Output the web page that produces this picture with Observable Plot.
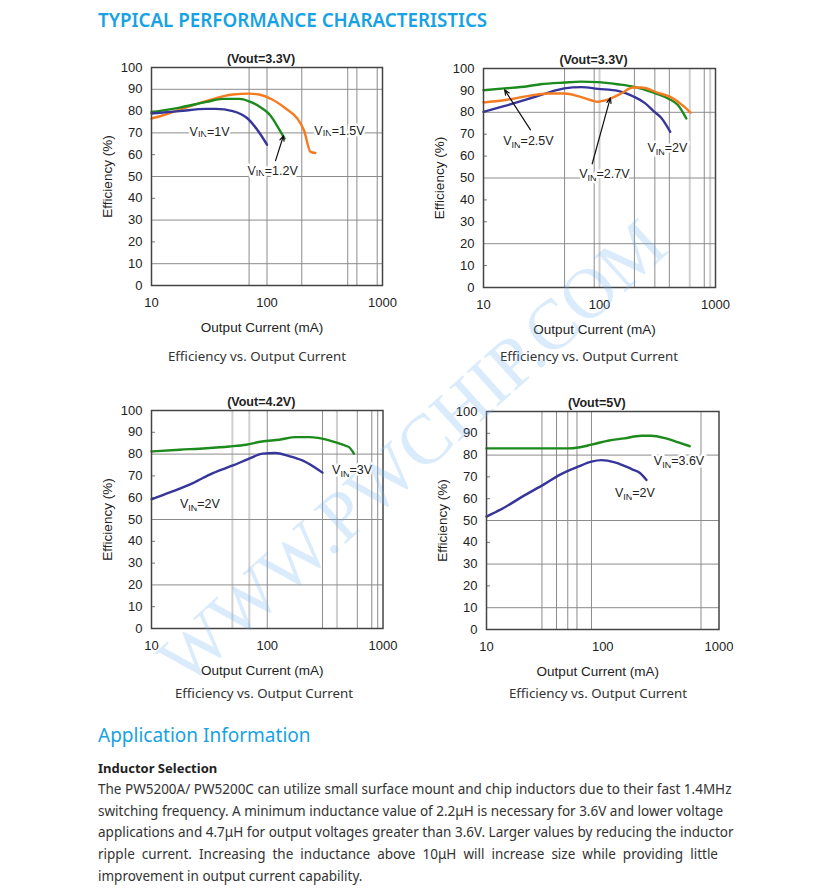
<!DOCTYPE html>
<html><head><meta charset="utf-8">
<script src="https://cdn.jsdelivr.net/npm/d3@7"></script>
<script src="https://cdn.jsdelivr.net/npm/@observablehq/plot@0.6"></script>
<style>
body{margin:0;background:#fff;}
#page{position:relative;width:827px;height:892px;overflow:hidden;font-family:"Noto Sans",sans-serif;background:#fff;}
.abs{position:absolute;white-space:nowrap;}
.chart{position:absolute;}
.h1{left:98px;top:9px;font-size:18.8px;line-height:22px;color:#17a2e3;font-weight:600;}
.cap{font-size:13.3px;line-height:16px;color:#333;transform:translateX(-50%);}
.h2{left:98px;top:723px;font-size:19px;line-height:24px;color:#17a2e3;}
.h3{left:98px;top:759px;font-size:13px;line-height:18px;color:#222;font-weight:bold;}
.para{position:absolute;left:98px;top:779px;width:620px;font-size:13.5px;line-height:21.7px;color:#333;}
.para div{text-align:justify;text-align-last:justify;white-space:nowrap;}
.para div.last{text-align-last:left;}
#wm{position:absolute;left:412px;top:452px;transform:translate(-50%,-50%) rotate(-42deg);font-family:"Liberation Serif",serif;font-size:71px;color:rgba(120,180,240,0.27);white-space:nowrap;pointer-events:none;}
</style></head><body><div id="page">
<div class="abs h1">TYPICAL PERFORMANCE CHARACTERISTICS</div>
<div id="c1" class="chart"></div><div id="c2" class="chart"></div>
<div id="c3" class="chart"></div><div id="c4" class="chart"></div>
<div class="abs cap" style="left:257px;top:348px">Efficiency vs. Output Current</div>
<div class="abs cap" style="left:589px;top:348px">Efficiency vs. Output Current</div>
<div class="abs cap" style="left:264px;top:685px">Efficiency vs. Output Current</div>
<div class="abs cap" style="left:598px;top:685px">Efficiency vs. Output Current</div>
<div class="abs h2">Application Information</div>
<div class="abs h3">Inductor Selection</div>
<div class="para">
<div>The PW5200A/ PW5200C can utilize small surface mount and chip inductors due to their fast 1.4MHz</div>
<div>switching frequency. A minimum inductance value of 2.2μH is necessary for 3.6V and lower voltage</div>
<div>applications and 4.7μH for output voltages greater than 3.6V. Larger values by reducing the inductor</div>
<div>ripple current. Increasing the inductance above 10μH will increase size while providing little</div>
<div class="last">improvement in output current capability.</div>
</div>
<div id="wm">WWW.PWCHIP.COM</div>
</div>
<script>
// ---- shared ticks ----
const xTicks = [10, 100, 1000];
const yTicks = [0, 10, 20, 30, 40, 50, 60, 70, 80, 90, 100];
const BLUE = "#35359a", GREEN = "#1c8a1c", ORANGE = "#f47b20";

// ---- chart 1 (Vout=3.3V) ----
const c1Title = "(Vout=3.3V)";
const c1_vin1_x = [10, 17.5, 29.7, 36, 50.5, 68, 85, 100];
const c1_vin1_y = [78.9, 80, 81, 81, 80, 76.6, 70.4, 64.6];
const c1_vin12_x = [10, 17.5, 30, 41.4, 57.6, 70, 91, 107, 119, 142];
const c1_vin12_y = [79.5, 81.6, 84.2, 85.6, 85.6, 84.5, 81.2, 78, 74.3, 67.4];
const c1_vin15_x = [10, 12.6, 18.8, 30, 50.5, 70, 85, 111, 145, 183, 209, 238, 262];
const c1_vin15_y = [76.6, 78.1, 81.2, 84.7, 87.6, 88, 87.6, 85.3, 81.2, 76.6, 71.2, 61.3, 60.8];
const c1_labels = ["VIN=1V", "VIN=1.2V", "VIN=1.5V"];
const c1_label_x = [31.8, 111.7, 424];
const c1_label_y = [70.2, 52.3, 71.1];
const c1_arrow = [[118.6, 57.3, 139, 68.8]];
const c1_gridX = [70, 100, 200, 500, 600, 900];
const c1_gridXLight = [];
const c1_gridY = [10, 30, 50, 70, 90];
const c1_markY = [20, 40, 60, 80];

// ---- chart 2 (Vout=3.3V) ----
const c2Title = "(Vout=3.3V)";
const c2_vin2_x = [10, 15, 24, 35.7, 49.8, 69.5, 97, 144, 200, 245, 298, 340, 407];
const c2_vin2_y = [80.2, 82.8, 86, 88.9, 90.9, 91.5, 90.7, 89.8, 87, 84.3, 80.2, 77.5, 71.1];
const c2_vin25_x = [10, 15.1, 24, 31, 49.8, 69.5, 96.7, 144, 200, 280, 390, 474, 560];
const c2_vin25_y = [90.1, 90.9, 91.9, 92.8, 93.6, 94, 93.8, 92.8, 91.6, 89.3, 86.3, 83.3, 77.2];
const c2_vin27_x = [10, 15, 24, 35.7, 50, 65, 84.7, 96.7, 118, 154, 194, 229, 319, 415, 540, 610];
const c2_vin27_y = [84.5, 85.5, 87.4, 88.6, 88.6, 87.4, 85.5, 84.8, 85.8, 88.6, 91.3, 91.3, 88.9, 86.8, 82.5, 79.8];
const c2_labels = ["VIN=2.5V", "VIN=2.7V", "VIN=2V"];
const c2_label_x = [24.4, 110, 385];
const c2_label_y = [67.1, 52, 63.5];
const c2_arrow = [[25.4, 72, 15.2, 90.3], [86.5, 56.5, 124, 86.6]];
const c2_gridX = [50, 90, 200, 300, 400, 800];
const c2_gridXLight = [100, 600, 900];
const c2_gridY = [20, 50, 80];
const c2_markY = [10, 30, 40, 60, 70, 90];

// ---- chart 3 (Vout=4.2V) ----
const c3Title = "(Vout=4.2V)";
const c3_vin2_x = [10, 14.4, 22.8, 33.9, 50.5, 69.8, 91, 118, 154, 201, 300];
const c3_vin2_y = [59.2, 62.4, 66.7, 71.3, 74.8, 77.9, 80.2, 80.5, 79.1, 77.1, 71.5];
const c3_vin3_x = [10, 17.5, 29.7, 47, 65.6, 90, 127, 177, 231, 343, 447, 509, 560];
const c3_vin3_y = [81.2, 82, 82.7, 83.5, 84.3, 85.8, 86.6, 87.8, 87.8, 86.3, 84.3, 83.2, 80.2];
const c3_labels = ["VIN=3V", "VIN=2V"];
const c3_label_x = [540, 26.2];
const c3_label_y = [72.5, 56.9];
const c3_gridX = [100, 300, 600, 800, 900];
const c3_gridXLight = [50, 70, 400];
const c3_gridY = [20, 50, 80];
const c3_markY = [10, 30, 40, 60, 70, 90];

// ---- chart 4 (Vout=5V) ----
const c4Title = "(Vout=5V)";
const c4_vin2_x = [10, 14.4, 21, 31.7, 41.4, 61.5, 80, 97, 127, 177, 209, 238];
const c4_vin2_y = [51.8, 56.1, 61.4, 66.8, 70.6, 74.7, 77, 77.7, 76.7, 73.6, 71.8, 68.6];
const c4_vin36_x = [10, 50.5, 61.5, 80, 111, 154, 215, 262, 343, 447, 560];
const c4_vin36_y = [83.1, 83.1, 83.5, 84.8, 86.6, 87.7, 88.9, 88.9, 87.8, 85.8, 84.1];
const c4_labels = ["VIN=3.6V", "VIN=2V"];
const c4_label_x = [453, 189];
const c4_label_y = [77.5, 62.8];
const c4_gridX = [30, 40, 50, 60, 80, 700];
const c4_gridXLight = [];
const c4_gridY = [10, 30, 50, 80];
const c4_markY = [20, 40, 60, 70, 90];

const zipXY = (xs, ys) => xs.map((x, i) => ({x, y: ys[i]}));
const labelRows = (t, xs, ys) => t.map((text, i) => ({text, x: xs[i], y: ys[i]}));
const arrowRows = a => a.map(([x1, y1, x2, y2]) => ({x1, y1, x2, y2}));

function makeChart(el, o) {
  const W = 330, H = 310, ml = 60, mt = 25;
  const mr = W - ml - o.fw, mb = H - mt - o.fh;
  const node = document.getElementById(el);
  node.style.left = (o.fl - ml) + "px";
  node.style.top = (o.ft - mt) + "px";
  const marks = [
    Plot.ruleX(o.gridXLight, {stroke: "#cfcfcf", strokeWidth: 2}),
    Plot.ruleX(o.gridX, {stroke: "#8c8c8c", strokeWidth: 1}),
    Plot.ruleY(o.gridY, {stroke: "#8c8c8c", strokeWidth: 1}),
    Plot.tickY(o.markY, {y: d => d, stroke: "#777", insetRight: o.fw - 4}),
    Plot.axisY(yTicks, {tickSize: 0, tickPadding: 9, label: null, fontSize: 13}),
    Plot.axisX(xTicks, {tickSize: 0, tickPadding: 12, label: null, fontSize: 13, tickFormat: d => String(d)}),
    ...o.series.map(s => Plot.line(zipXY(s.x, s.y), {x: "x", y: "y", stroke: s.color, strokeWidth: 2.4, curve: "monotone-x"})),
    Plot.frame({stroke: "#444", strokeWidth: 1.5}),
    Plot.arrow(arrowRows(o.arrows || []), {x1: "x1", y1: "y1", x2: "x2", y2: "y2", stroke: "#111", strokeWidth: 1.2, headLength: 7, headAngle: 45}),
    Plot.text(labelRows(o.labels, o.lx, o.ly), {x: "x", y: "y", text: "text", className: "vin", fill: "#222", stroke: "white", strokeWidth: 5, paintOrder: "stroke", fontSize: 12.5}),
    Plot.text([o.title], {frameAnchor: "top", lineAnchor: "middle", textAnchor: "middle", dy: -9, dx: -6, fontWeight: "bold", fontSize: 12.5}),
    Plot.text(["Output Current (mA)"], {frameAnchor: "bottom", lineAnchor: "middle", textAnchor: "middle", dy: 42, dx: -5, fontSize: 13.5}),
    Plot.text(["Efficiency (%)"], {frameAnchor: "left", lineAnchor: "middle", textAnchor: "middle", dx: -44, rotate: -90, fontSize: 13.5})
  ];
  const svg = Plot.plot({
    width: W, height: H, marginLeft: ml, marginRight: mr, marginTop: mt, marginBottom: mb,
    x: {type: "log", domain: [10, 1000]},
    y: {domain: [0, 100]},
    style: {fontFamily: "'Liberation Sans', Arial, sans-serif", fontSize: "13px", color: "#222", background: "transparent", overflow: "visible"},
    marks
  });
  // subscript "IN" in VIN labels
  svg.querySelectorAll(".vin text").forEach(t => {
    const s = t.textContent;
    if (!s.startsWith("VIN")) return;
    t.textContent = "";
    const ns = "http://www.w3.org/2000/svg";
    const a = document.createElementNS(ns, "tspan"); a.textContent = "V";
    const b = document.createElementNS(ns, "tspan"); b.textContent = "IN";
    b.setAttribute("font-size", "9"); b.setAttribute("dy", o.subDy);
    const c = document.createElementNS(ns, "tspan"); c.textContent = s.slice(3);
    c.setAttribute("dy", -o.subDy);
    t.append(a, b, c);
  });
  node.appendChild(svg);
}

makeChart("c1", {fl: 151, ft: 67, fw: 231, fh: 218, title: c1Title, subDy: 1,
  series: [{x: c1_vin15_x, y: c1_vin15_y, color: ORANGE}, {x: c1_vin12_x, y: c1_vin12_y, color: GREEN}, {x: c1_vin1_x, y: c1_vin1_y, color: BLUE}],
  labels: c1_labels, lx: c1_label_x, ly: c1_label_y, arrows: c1_arrow,
  gridX: c1_gridX, gridXLight: c1_gridXLight, gridY: c1_gridY, markY: c1_markY});
makeChart("c2", {fl: 483, ft: 68, fw: 232, fh: 219, title: c2Title, subDy: 3,
  series: [{x: c2_vin2_x, y: c2_vin2_y, color: BLUE}, {x: c2_vin25_x, y: c2_vin25_y, color: GREEN}, {x: c2_vin27_x, y: c2_vin27_y, color: ORANGE}],
  labels: c2_labels, lx: c2_label_x, ly: c2_label_y, arrows: c2_arrow,
  gridX: c2_gridX, gridXLight: c2_gridXLight, gridY: c2_gridY, markY: c2_markY});
makeChart("c3", {fl: 150.5, ft: 410, fw: 231.5, fh: 218, title: c3Title, subDy: 3,
  series: [{x: c3_vin3_x, y: c3_vin3_y, color: GREEN}, {x: c3_vin2_x, y: c3_vin2_y, color: BLUE}],
  labels: c3_labels, lx: c3_label_x, ly: c3_label_y, arrows: [],
  gridX: c3_gridX, gridXLight: c3_gridXLight, gridY: c3_gridY, markY: c3_markY});
makeChart("c4", {fl: 485.5, ft: 411, fw: 232.5, fh: 218, title: c4Title, subDy: 3,
  series: [{x: c4_vin36_x, y: c4_vin36_y, color: GREEN}, {x: c4_vin2_x, y: c4_vin2_y, color: BLUE}],
  labels: c4_labels, lx: c4_label_x, ly: c4_label_y, arrows: [],
  gridX: c4_gridX, gridXLight: c4_gridXLight, gridY: c4_gridY, markY: c4_markY});
</script>
</body></html>
